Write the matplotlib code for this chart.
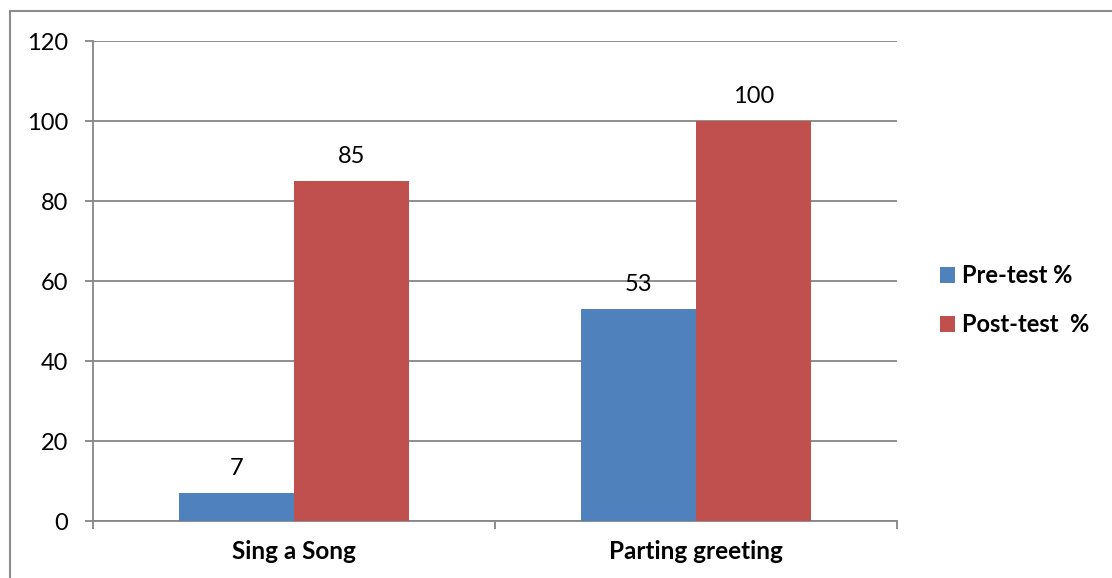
import matplotlib.pyplot as plt
import numpy as np
from matplotlib.lines import Line2D

categories = ['Sing a Song', 'Parting greeting']
pre_test = [7, 53]
post_test = [85, 100]
series_names = ['Pre-test %', 'Post-test  %']

plt.rcParams['font.family'] = ['Lato', 'DejaVu Sans']

fig = plt.figure(figsize=(11.12, 5.78), dpi=100)
ax = fig.add_axes([0.0836, 0.0986, 0.7231, 0.8304])

x = np.arange(len(categories))
w = 1 / 3.5   # gap width 150%
b1 = ax.bar(x - w / 2, pre_test, w, color='#4F81BD', label=series_names[0], zorder=3)
b2 = ax.bar(x + w / 2, post_test, w, color='#C0504D', label=series_names[1], zorder=3)

# value labels above each bar
for bars in (b1, b2):
    for r in bars:
        v = r.get_height()
        ax.annotate('%d' % v, xy=(r.get_x() + r.get_width() / 2, v), xytext=(0, 18),
                    textcoords='offset points', ha='center', va='center', fontsize=17)

ax.set_xlim(-0.5, 1.5)
ax.set_ylim(0, 120)
ax.set_yticks(np.arange(0, 121, 20))
ax.yaxis.grid(True, color='#868686', linewidth=1.3, zorder=0)
ax.set_axisbelow(True)

ax.set_xticks([-0.5, 0.5, 1.5], minor=False)
ax.set_xticklabels([])
ax.set_xticks(x, minor=True)
ax.set_xticklabels(categories, minor=True, fontsize=17.5, fontweight='bold')
ax.tick_params(axis='x', which='major', direction='out', length=6, width=1.3, color='#868686')
ax.tick_params(axis='x', which='minor', length=0, pad=14)
ax.tick_params(axis='y', direction='out', length=6, width=1.3, color='#868686', labelsize=17, pad=12)

for s in ('top', 'right'):
    ax.spines[s].set_visible(False)
for s in ('left', 'bottom'):
    ax.spines[s].set_color('#868686')
    ax.spines[s].set_linewidth(1.3)

ax.legend(loc='center left', bbox_to_anchor=(1.0535, 0.46), frameon=False,
          prop={'size': 17, 'weight': 'bold'}, handlelength=0.65, handleheight=0.65,
          handletextpad=0.3, labelspacing=1.1, borderpad=0, borderaxespad=0)

# chart border
fig.add_artist(Line2D([0.009, 1], [0.981, 0.981], color='#8c8c8c', linewidth=1.5))
fig.add_artist(Line2D([0.009, 0.009], [0, 0.981], color='#8c8c8c', linewidth=1.5))

fig.savefig('out.png', dpi=100)
